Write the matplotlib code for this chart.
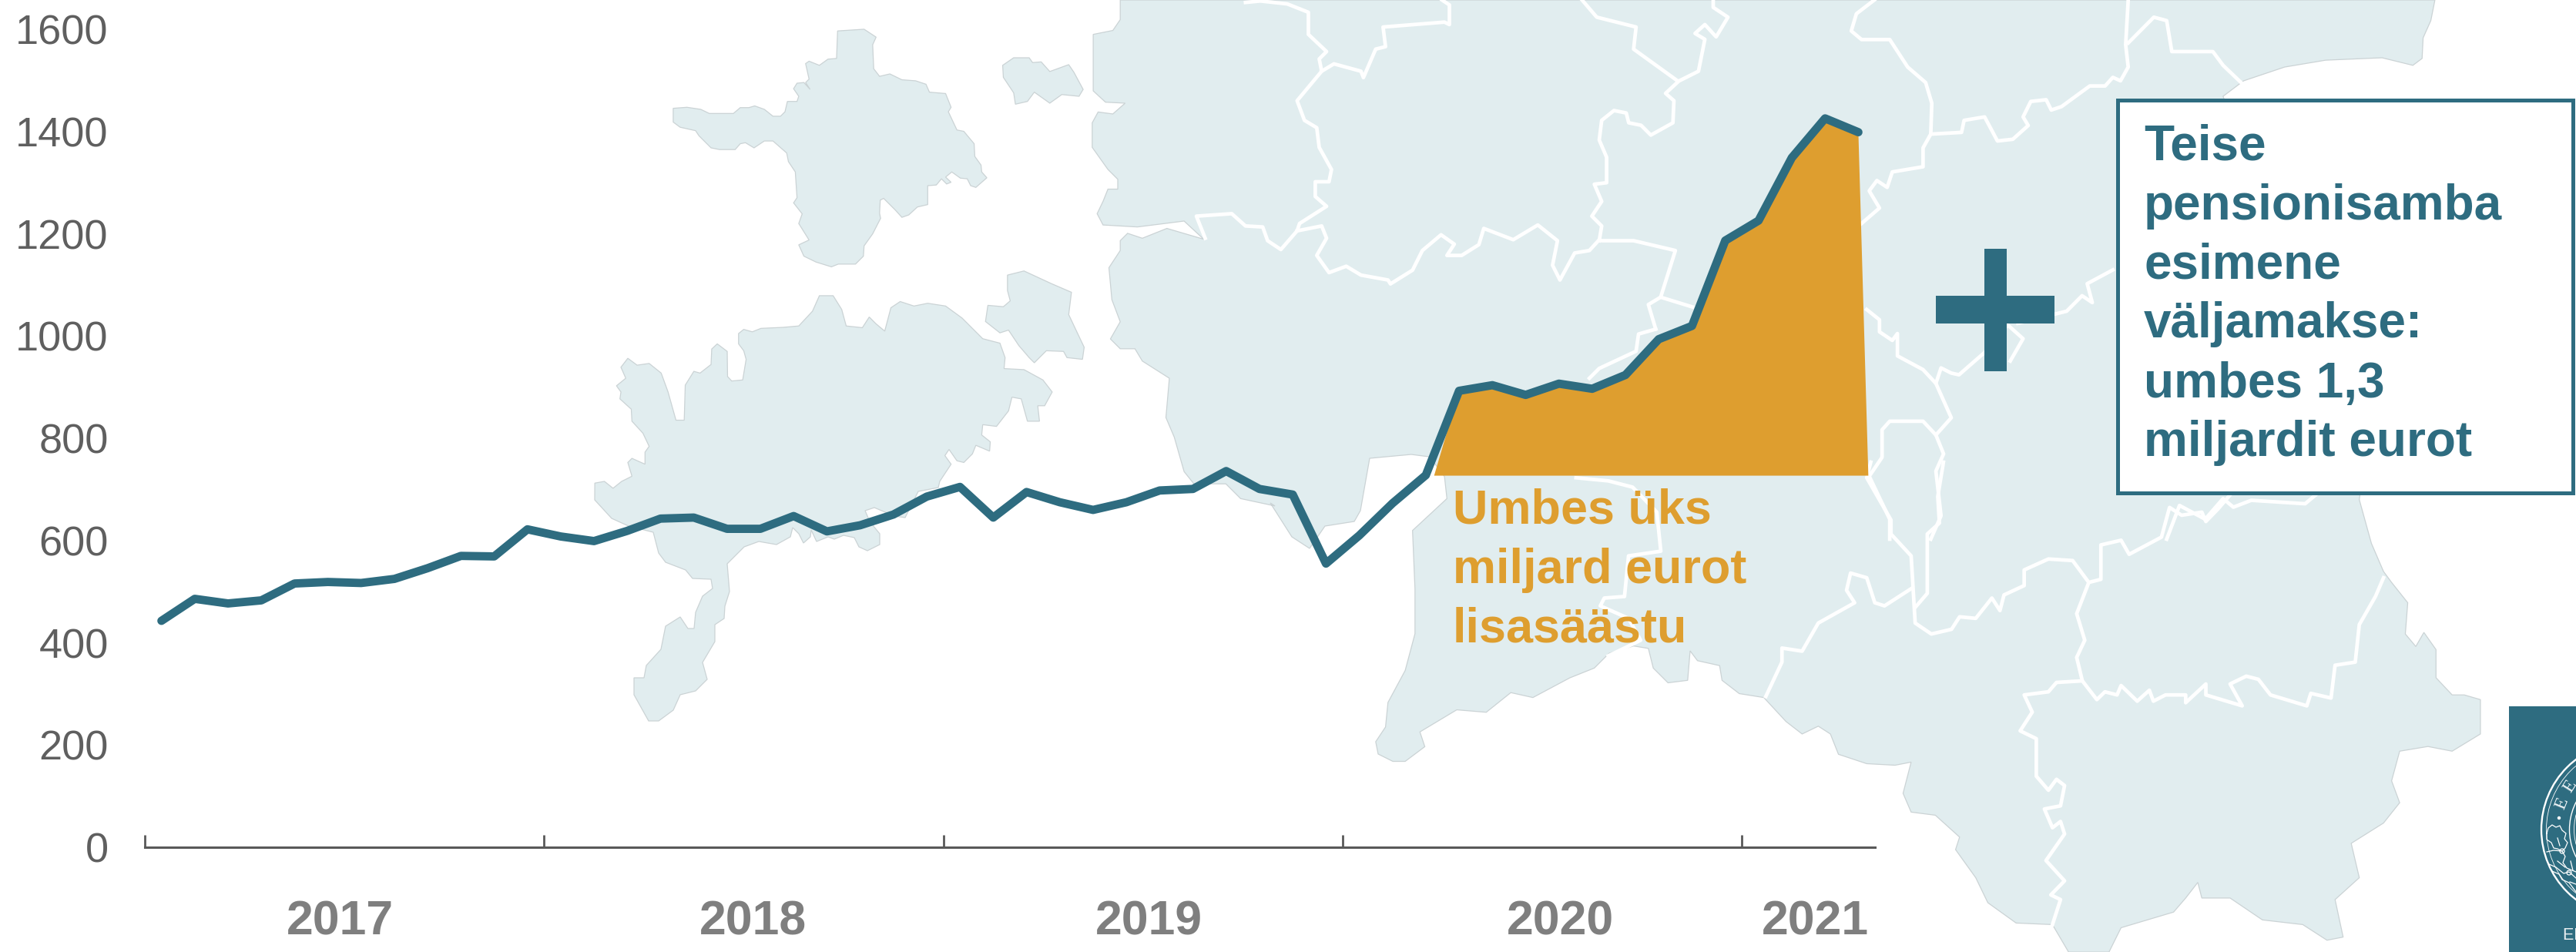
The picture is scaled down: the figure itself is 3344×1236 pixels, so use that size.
import numpy as np
import matplotlib
matplotlib.use('Agg')
import matplotlib.pyplot as plt
from matplotlib.patches import Polygon, Rectangle, Circle

plt.rcParams['font.family'] = ['Liberation Sans', 'DejaVu Sans']

# ---------- data ----------
values = [443, 486, 477, 483, 516, 519, 517, 525, 546, 570, 569, 622,
          608, 599, 619, 643, 645, 623, 623, 648, 618, 630, 651, 686,
          705, 645, 695, 675, 660, 675, 698, 701, 736, 701, 690, 555,
          610, 673, 728, 893, 904, 885, 907, 897, 924, 994, 1020, 1187,
          1226, 1349, 1426, 1399]
y_ticks = [0, 200, 400, 600, 800, 1000, 1200, 1400, 1600]
years = ['2017', '2018', '2019', '2020', '2021']
year_centres = [441, 977, 1491, 2025, 2356]
orange_lines = ['Umbes üks', 'miljard eurot', 'lisasäästu']
box_lines = ['Teise', 'pensionisamba', 'esimene', 'väljamakse:', 'umbes 1,3', 'miljardit eurot']
fill_start, fill_end, fill_base = 38.25, 51.3, 727

TEAL = '#2E6C80'
ORANGE = '#DE9E2F'
LAND = '#E1EDEF'
GREY = '#595959'
YEARC = '#7F7F7F'

W, H = 3344, 1236
fig = plt.figure(figsize=(W / 100, H / 100), dpi=100, facecolor='white')

# ---------- pixel-space layers ----------
def pixel_axes(z):
    a = fig.add_axes([0, 0, 1, 1], zorder=z)
    a.set_xlim(0, W)
    a.set_ylim(H, 0)
    a.axis('off')
    a.patch.set_alpha(0)
    return a

bg = pixel_axes(0)
top = pixel_axes(2)

def z5(p): return [(740 + x / 2.24, y / 2.24) for x, y in p]
def z6(p): return [(1400 + x / 1.568, y / 1.568) for x, y in p]
def z7(p): return [(2300 + x / 1.502, y / 2.24) for x, y in p]
def z8(p): return [(1700 + x / 0.954, 600 + y / 2.465) for x, y in p]

hiiumaa = z5([(300,315),(340,312),(380,318),(405,330),(475,330),(495,313),(520,313),(537,308),(565,318),(590,338),(612,338),(625,325),(632,295),(660,295),(665,280),(650,258),(660,242),(680,240),(698,260),(685,240),(695,230),(685,185),(695,178),(725,190),(750,172),(775,170),(778,90),(855,85),(890,108),(880,130),(883,200),(900,222),(930,215),(965,232),(1005,235),(1035,245),(1045,268),(1092,272),(1108,312),(1100,325),(1125,378),(1145,382),(1175,418),(1177,455),(1195,480),(1197,500),(1212,517),(1180,545),(1165,540),(1155,520),(1135,518),(1110,500),(1092,515),(1108,530),(1095,535),(1080,520),(1065,538),(1040,540),(1040,595),(1010,602),(985,625),(965,632),(945,610),(912,577),(902,582),(900,620),(903,635),(880,680),(855,715),(853,745),(830,768),(780,768),(760,776),(715,762),(680,745),(665,712),(695,698),(665,650),(675,622),(650,590),(660,575),(655,500),(635,470),(630,445),(590,410),(565,410),(535,430),(510,415),(495,418),(480,435),(435,435),(410,430),(375,395),(365,380),(320,370),(300,355)])

saaremaa = z5([(72,1405),(100,1400),(125,1420),(150,1400),(180,1385),(168,1345),(180,1333),(218,1350),(218,1315),(230,1298),(212,1260),(180,1225),(178,1190),(145,1160),(148,1140),(135,1122),(162,1100),(148,1068),(168,1042),(195,1062),(230,1057),(265,1085),(285,1140),(308,1222),(332,1222),(335,1120),(360,1080),(378,1085),(410,1060),(412,1015),(428,1000),(457,1022),(458,1095),(470,1108),(502,1105),(512,1045),(505,1020),(490,1000),(490,970),(505,958),(530,965),(555,955),(620,952),(665,948),(705,905),(725,860),(765,860),(790,900),(803,948),(850,953),(870,922),(890,942),(915,963),(933,895),(960,877),(1000,890),(1040,882),(1092,890),(1140,925),(1200,985),(1250,998),(1265,1040),(1262,1072),(1320,1075),(1375,1105),(1402,1140),(1380,1180),(1360,1180),(1365,1225),(1330,1225),(1312,1160),(1285,1155),(1275,1195),(1240,1240),(1200,1235),(1197,1265),(1222,1285),(1220,1312),(1180,1295),(1170,1320),(1145,1345),(1125,1340),(1102,1307),(1090,1325),(1108,1350),(1075,1400)]) + [
    (1218,633),(1192,638),(1175,672),(1161,670),(1135,659),(1123,663),(1129,677),(1142,693),(1142,707),(1126,715),(1115,710),(1109,698),(1095,695),(1083,700),(1075,697),(1060,703),(1053,688),(1052,697),(1043,705),(1037,693),(1029,685),(1026,697),(1008,707),(985,703),(966,710),(944,732),(947,768),(941,787),(940,803),(928,811),(928,833),(912,860),(918,882),(903,897),(883,902),(874,922),(855,936),(842,936),(823,902),(823,880),(836,880),(839,864),(858,843),(864,813),(883,801),(893,816),(901,816),(903,795),(912,774),(925,764),(923,752),(899,751),(890,740),(864,730),(855,718),(848,691),(816,683),(794,673),(772,649)]

small1 = z5([(1258,190),(1290,168),(1335,168),(1345,182),(1370,180),(1395,208),(1450,188),(1465,210),(1492,260),(1480,280),(1430,275),(1395,300),(1350,268),(1330,295),(1295,303),(1290,270),(1260,225)])
small2 = z5([(1272,800),(1320,788),(1400,825),(1458,850),(1450,915),(1495,1010),(1490,1045),(1445,1040),(1435,1022),(1385,1020),(1350,1055),(1335,1040),(1305,1005),(1275,960),(1250,968),(1208,935),(1215,888),(1260,892),(1280,875),(1272,845)])

mainland = z6([(85,0),(85,40),(70,62),(30,70),(30,185),(55,208),(95,210),(70,232),(40,228),(28,250),(28,300),(60,345),(80,365),(80,385),(60,385),(50,410),(38,435),(50,458),(120,462),(215,450),(255,487),(180,465),(130,485),(100,475),(85,490),(85,510),(62,545),(68,610),(85,655),(65,690),(85,710),(115,710),(130,735),(185,770),(178,850),(195,890),(215,960),(235,985),(300,985),(330,1015),(400,1030)]) + [
    (1649,653),(1677,697),(1700,712),(1720,683),(1758,677),(1766,663),(1778,595),(1832,590)] + z6([(715,930),(745,970),(750,1015),(680,1080),(685,1200),(685,1290),(665,1365),(630,1430),(625,1480),(605,1510),(610,1535),(640,1550),(665,1550),(705,1520),(695,1490),(770,1445),(830,1450),(880,1410),(925,1420),(1000,1380),(1050,1360),(1080,1330),(1130,1315),(1160,1320),(1170,1360),(1200,1390),(1240,1385),(1245,1325),(1260,1345),(1305,1355),(1310,1385),(1345,1412),(1395,1420)]) + z8([(590,830),(610,870),(630,845),(645,870),(655,935),(690,965),(725,970),(745,960),(735,1060),(745,1120),(775,1130),(805,1200),(800,1240),(825,1330),(840,1410),(875,1475),(920,1480),(940,1568),(990,1568),(1005,1490),(1070,1440),(1085,1395),(1100,1345),(1105,1395),(1140,1395),(1180,1465),(1230,1480),(1260,1530),(1280,1520),(1270,1400),(1300,1330),(1290,1220),(1330,1155),(1350,1090),(1340,1020),(1350,925),(1385,910),(1415,925),(1450,870),(1450,760),(1430,745),(1415,745),(1395,690),(1395,600),(1380,545),(1370,590),(1357,550),(1360,450),(1340,385),(1330,350),(1315,260),(1300,120)]) + z7([(1150,1400),(880,280),(920,235),(1000,195),(1080,175),(1190,168),(1250,190),(1268,170),(1270,110),(1285,60),(1293,0)])

for poly in (hiiumaa, saaremaa, small1, small2, mainland):
    bg.add_patch(Polygon(poly, closed=True, facecolor=LAND, edgecolor='#CBD3D5', lw=0.9, zorder=1))

borders = [
    z6([(340,5),(370,2),(425,8),(468,25),(468,70),(505,105),(490,120),(495,145),(445,205),(460,245),(485,260),(490,300),(515,345),(510,370),(482,370),(482,400),(505,420),(450,455),(445,470),(412,508),(385,490),(375,462),(340,460),(312,435),(240,440),(258,485)]),
    z6([(495,145),(520,130),(575,145),(580,158),(605,100),(625,95),(620,55),(745,45),(755,50),(755,10),(740,0)]),
    z6([(445,470),(495,460),(505,485),(485,520),(510,555),(545,542),(575,560),(630,570),(635,578),(680,550),(700,510),(738,478),(765,497),(750,520),(780,520),(815,498),(825,465),(885,488),(935,458),(975,490),(965,540),(980,570),(1010,515),(1040,510),(1060,488),(1065,490),(1130,490),(1215,510),(1185,605),(1160,620),(1175,670)]),
    z6([(1060,490),(1065,460),(1045,440),(1065,410),(1050,375),(1075,372),(1075,320),(1060,285),(1065,245),(1090,225),(1115,230),(1120,250),(1145,255),(1165,275),(1210,250),(1212,205),(1195,190),(1222,165),(1262,145),(1275,80),(1255,68),(1275,50),(1298,75),(1322,35),(1292,15),(1292,0)]),
    z6([(1025,0),(1055,35),(1135,55),(1130,100),(1220,165)]),
    z6([(1185,605),(1250,625)]),
    z6([(1175,670),(1140,680),(1135,715),(1060,750),(1040,770)]),
    z8([(330,50),(370,60),(400,80),(430,160),(435,285),(395,300),(390,430),(365,435),(360,460),(395,500),(410,570),(370,620)]),
    z8([(695,0),(690,50),(720,185),(720,230),(745,300),(750,515),(770,550),(795,535),(805,495),(825,500),(845,435),(855,475),(860,425),(885,395),(885,345),(915,310),(945,315),(965,385),(980,375),(980,265),(1005,250),(1015,295),(1055,240),(1065,145),(1080,170),(1105,160),(1110,190),(1125,150),(1140,105)]),
    z8([(785,0),(778,110),(780,195),(765,230),(765,420),(750,465)]),
    z8([(745,405),(712,460),(700,450),(690,370),(670,355),(665,410),(675,450),(630,515),(610,605),(585,595),(585,640),(565,750)]),
    z8([(965,385),(950,485),(960,570),(950,625),(957,700),(925,705),(915,735),(885,745),(895,800),(880,860),(900,885),(900,1005),(915,1050),(925,1015),(935,1035),(930,1100),(910,1110),(920,1170),(930,1150),(935,1190),(912,1275),(935,1340),(918,1385),(930,1400),(920,1480)]),
    z8([(957,700),(975,760),(985,735),(1000,745),(1005,715),(1025,765),(1040,730),(1045,765),(1060,745),(1085,745),(1085,770),(1110,710),(1110,745),(1155,780),(1140,710),(1160,685),(1175,695),(1190,745),(1235,780),(1240,740),(1265,755),(1270,650),(1295,640),(1300,520),(1320,430),(1330,370)]),
    z7([(200,0),(165,40),(155,90),(175,115),(230,115),(265,195),(300,240),(312,300),(310,390),(295,430),(295,485),(235,500),(225,545),(205,525),(190,555),(210,605),(175,650)]),
    z7([(310,390),(370,385),(375,350),(415,340),(440,410),(470,405),(500,365),(490,340),(505,295),(535,290),(545,320),(565,310),(620,250),(650,250),(665,225),(680,235),(695,195),(690,130),(695,0)]),
    z7([(695,125),(745,50),(770,60),(780,150),(860,150),(880,190),(915,240)]),
    z7([(185,900),(210,930),(210,965),(235,990),(245,970),(245,1035),(295,1075),(320,1115),(330,1070),(350,1085),(365,1090),(415,1025),(460,945),(490,985),(465,1050)]),
    z7([(320,1115),(350,1215),(320,1265),(335,1320),(320,1370),(330,1500),(310,1568)]),
    z7([(320,1265),(295,1225),(230,1225),(215,1250),(215,1330),(190,1385),(230,1510),(230,1568)]),
    z7([(480,940),(575,905),(605,860),(625,880),(615,825),(665,785)]),
    z7([(770,1568),(795,1470),(845,1510),(880,1450),(900,1475),(935,1455),(1040,1465),(1060,1440)]),
]
for b in borders:
    xs, ys = zip(*b)
    bg.plot(xs, ys, color='white', lw=3.4, solid_joinstyle='round', zorder=2)

# ---------- chart ----------
ax_l, ax_r, ax_bot = 188, 2434, 1100
ax = fig.add_axes([ax_l / W, (H - ax_bot) / H, (ax_r - ax_l) / W, ax_bot / H], zorder=1)
ax.patch.set_alpha(0)
x = np.arange(len(values))
ax.set_xlim(-0.5, len(values) - 0.5)
ax.set_ylim(0, ax_bot / 0.6636)

vals = np.array(values, float)
fx = [fill_start] + list(x[39:]) + [fill_end]
fy = [fill_base] + list(vals[39:]) + [fill_base]
ax.fill(fx, fy, color=ORANGE, lw=0, zorder=2)
ax.plot(x, vals, color=TEAL, lw=7.8, solid_capstyle='round', solid_joinstyle='round', zorder=3, clip_on=False)

for s in ('top', 'right', 'left'):
    ax.spines[s].set_visible(False)
ax.spines['bottom'].set_color(GREY)
ax.spines['bottom'].set_linewidth(2.2)
ax.set_yticks(y_ticks)
ax.set_yticklabels([str(t) for t in y_ticks], fontsize=39, color='#5F5F5F')
ax.tick_params(axis='y', length=0, pad=34)
ax.set_xticks([-0.5, 11.5, 23.5, 35.5, 47.5])
ax.set_xticklabels([])
ax.tick_params(axis='x', direction='in', length=11.5, width=2.0, color=GREY)

# ---------- text and overlays ----------
for lab, cx in zip(years, year_centres):
    top.text(cx, 1213, lab, fontsize=45, fontweight='bold', color=YEARC, ha='center', va='baseline')

for lab, by in zip(orange_lines, [680, 757, 834]):
    top.text(1886, by, lab, fontsize=45.4, fontweight='bold', color=ORANGE, ha='left', va='baseline')

top.add_patch(Rectangle((2749, 130), 591, 509.5, facecolor='white', edgecolor=TEAL, lw=3.6, zorder=1))
for lab, by in zip(box_lines, [208, 285, 361.5, 438, 515.5, 592]):
    top.text(2783, by, lab, fontsize=46, fontweight='bold', color=TEAL, ha='left', va='baseline', zorder=2)

top.add_patch(Rectangle((2513, 384), 154, 36, facecolor=TEAL, lw=0))
top.add_patch(Rectangle((2576, 323), 29, 159, facecolor=TEAL, lw=0))

# logo
logo = Rectangle((3257, 917), 87, 319, facecolor=TEAL, lw=0, zorder=3)
top.add_patch(logo)
for r, w in ((114.5, 1.7), (108, 0.6), (78, 1.0), (72, 0.6)):
    c = Circle((3413.5, 1077), r, fill=False, edgecolor='white', lw=w, zorder=4)
    top.add_patch(c)
    c.set_clip_path(logo)
for lx, ly, rot in ((3326, 1043, 68), (3337, 1021, 58)):
    top.text(lx, ly, 'E', fontsize=17, color='#EDF3F5', family='Liberation Serif', rotation=rot,
             ha='center', va='center', zorder=4)
top.add_patch(Circle((3322, 1062), 2.2, facecolor='white', lw=0, zorder=4))
# oak leaves of the seal
leaf_paths = [
    [(3306,1082),(3308,1075),(3313,1071),(3318,1074),(3323,1072),(3326,1078),(3331,1082),(3329,1089),(3333,1094),(3330,1101),(3326,1105),(3320,1102),(3315,1101),(3312,1094),(3306,1090),(3306,1082)],
    [(3306,1106),(3315,1104),(3326,1105),(3330,1112),(3327,1120),(3332,1127),(3344,1132)],
    [(3309,1122),(3318,1126),(3328,1134),(3335,1132),(3344,1140)],
    [(3313,1131),(3322,1135),(3326,1142),(3335,1146),(3344,1158)],
    [(3320,1088),(3323,1098)],
    [(3320,1118),(3330,1126)],
    [(3337,1118),(3340,1130)],
    [(3336,1145),(3344,1148)],
]
for leaf in leaf_paths:
    lx, ly = zip(*leaf)
    l, = top.plot(lx, ly, color='white', lw=0.9, zorder=4)
    l.set_clip_path(logo)
for cx, cy in ((3326, 1105), (3335, 1133)):
    top.add_patch(Circle((cx, cy), 3, fill=False, edgecolor='white', lw=0.9, zorder=4))
t = top.text(3327, 1215, 'EESTI PANK', fontsize=15.5, color='#E8EEF0', ha='left', va='center', zorder=4, clip_on=True)
t.set_clip_path(logo)

fig.savefig('out.png', dpi=100, facecolor='white')
